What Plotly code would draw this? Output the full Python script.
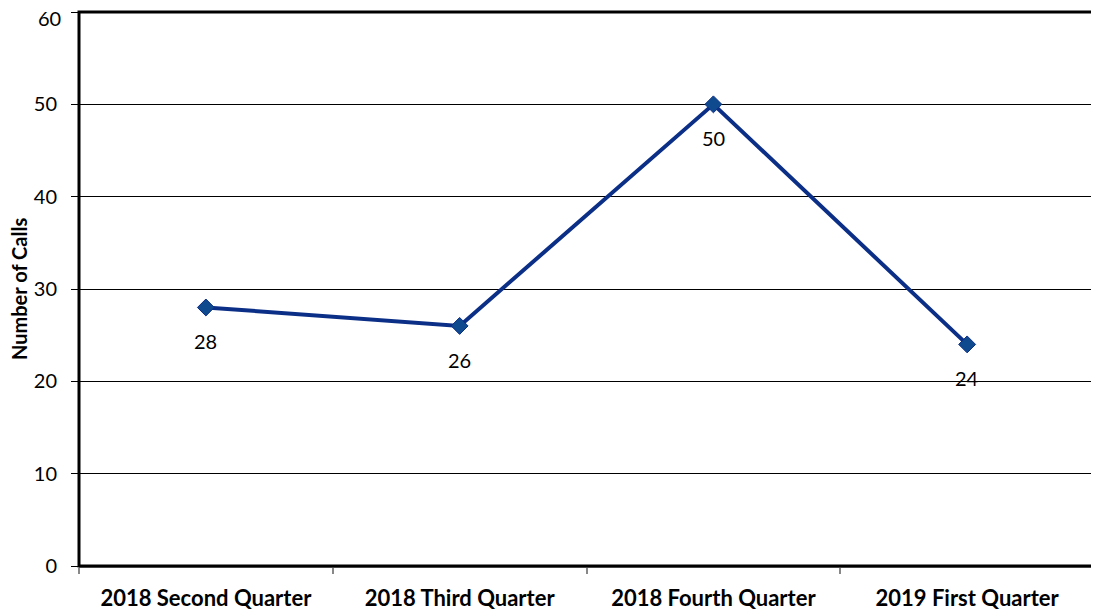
import plotly.graph_objects as go

categories = ["2018 Second Quarter", "2018 Third Quarter", "2018 Fourth Quarter", "2019 First Quarter"]
calls = [28, 26, 50, 24]
y_ticks = [0, 10, 20, 30, 40, 50, 60]

FONT = "Lato, Open Sans, Liberation Sans, sans-serif"

fig = go.Figure()
fig.add_trace(go.Scatter(
    x=categories, y=calls, mode="lines+markers",
    line=dict(color="#0B2E86", width=4),
    marker=dict(symbol="diamond", size=13, color="#104A8E", line=dict(color="#0B2E86", width=1)),
    showlegend=False, cliponaxis=False,
))
for c, v in zip(categories, calls):
    fig.add_annotation(x=c, y=v, text=str(v), showarrow=False, yshift=-34,
                       font=dict(family=FONT, size=20, color="black"))

# top tick label (plotly hides it at the figure edge), drawn at its data value
fig.add_annotation(x=0, y=y_ticks[-1], xref="paper", yref="y", text=str(y_ticks[-1]),
                   showarrow=False, xanchor="right", yanchor="top", xshift=-16, yshift=8,
                   font=dict(family=FONT, size=20, color="black"))

fig.add_annotation(x=0, y=0.5, xref="paper", yref="paper", text="<b>Number of Calls</b>",
                   textangle=-90, showarrow=False, xshift=-60, xanchor="center",
                   font=dict(family=FONT, size=20, color="black"))

fig.update_layout(
    width=1091, height=602,
    margin=dict(l=71, r=5, t=4, b=44),
    paper_bgcolor="white", plot_bgcolor="white",
    font=dict(family=FONT, color="black"),
    xaxis=dict(
        type="category", tickson="boundaries", ticks="outside", ticklen=6, tickcolor="#888888",
        tickwidth=2, showgrid=False, showline=True, linecolor="#888888", linewidth=2,
        tickfont=dict(family=FONT, size=22, color="black", weight="bold"),
        range=[-0.5, 3.5], automargin=False, ticklabelstandoff=12,
    ),
    yaxis=dict(
        range=[0, 60], tickvals=y_ticks,
        ticktext=[str(v) for v in y_ticks[:-1]] + [""],
        ticks="outside", ticklen=7, tickcolor="black",
        showgrid=True, gridcolor="black", gridwidth=1, zeroline=False,
        tickfont=dict(family=FONT, size=20, color="black"),
        automargin=False, ticklabelstandoff=10,
    ),
    shapes=[dict(type="rect", xref="paper", yref="paper", x0=0, y0=0, x1=1, y1=1,
                 line=dict(color="black", width=3))],
)

fig.write_html("out.html")
